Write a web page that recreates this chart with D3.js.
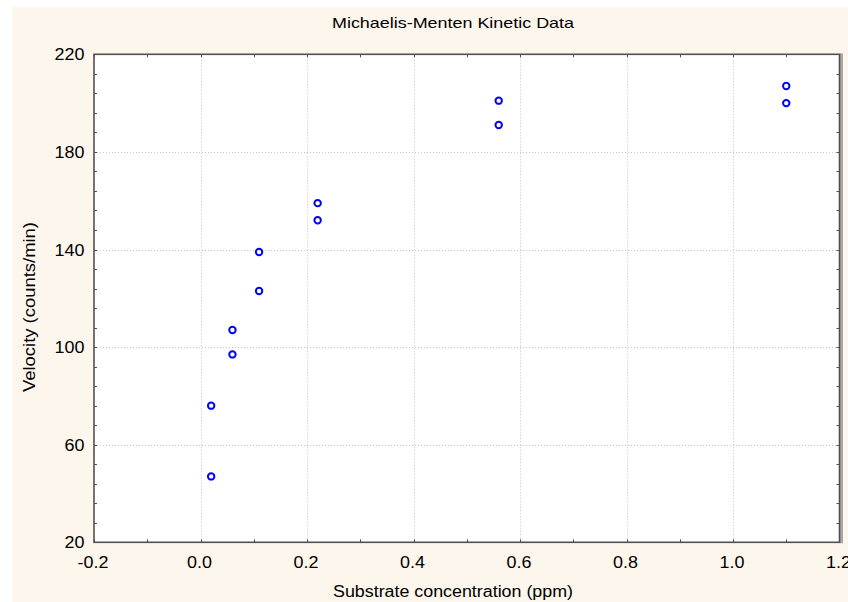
<!DOCTYPE html>
<html>
<head>
<meta charset="utf-8">
<script src="https://cdn.jsdelivr.net/npm/d3@7"></script>
<style>
  html, body { margin: 0; padding: 0; background: #fff; }
  svg { display: block; font-family: "Liberation Sans", Arial, sans-serif; }
</style>
</head>
<body>
<svg id="chart" width="848" height="602"></svg>
<script>
// Michaelis-Menten kinetic data (treated puromycin runs), two replicates per concentration.
const concentration = [0.02, 0.02, 0.06, 0.06, 0.11, 0.11, 0.22, 0.22, 0.56, 0.56, 1.10, 1.10];
const velocity = [76, 47, 97, 107, 123, 139, 159, 152, 191, 201, 207, 200];

const xTickValues = [-0.2, 0.0, 0.2, 0.4, 0.6, 0.8, 1.0, 1.2];
const yTickValues = [20, 60, 100, 140, 180, 220];

const TITLE = "Michaelis-Menten Kinetic Data";
const X_LABEL = "Substrate concentration (ppm)";
const Y_LABEL = "Velocity (counts/min)";

const BG = "#fdf6ec";
const FRAME = "#505050";
const GRID = "#c4c4c4";
const MARK = "#0000ff";

const svg = d3.select("#chart");

// cream panel, with a thin white margin on top and left
svg.append("rect").attr("x", 0).attr("y", 0).attr("width", 848).attr("height", 602).attr("fill", "#fff");
svg.append("rect").attr("x", 12).attr("y", 7).attr("width", 836).attr("height", 595).attr("fill", BG);

const x = d3.scaleLinear().domain([-0.2, 1.2]).range([94, 839.5]);
const y = d3.scaleLinear().domain([20, 220]).range([542.3, 54.3]);

const [x0, x1] = x.range();
const [y0, y1] = y.range();

svg.append("rect")
  .attr("x", x0).attr("y", y1)
  .attr("width", x1 - x0).attr("height", y0 - y1)
  .attr("fill", "#fff");

// dotted grid at the inner major ticks
const grid = svg.append("g").attr("stroke", GRID).attr("stroke-width", 1).attr("stroke-dasharray", "1,2");
grid.selectAll("line.gx")
  .data(xTickValues.slice(1, -1))
  .join("line")
    .attr("x1", d => Math.round(x(d)) + 0.5).attr("x2", d => Math.round(x(d)) + 0.5)
    .attr("y1", y1).attr("y2", y0);
grid.selectAll("line.gy")
  .data(yTickValues.slice(1, -1))
  .join("line")
    .attr("y1", d => Math.round(y(d)) + 0.5).attr("y2", d => Math.round(y(d)) + 0.5)
    .attr("x1", x0).attr("x2", x1);

// inward ticks on all four sides (majors plus minors)
const xMinor = d3.range(-0.2, 1.2001, 0.1);
const yMinor = d3.range(20, 220.01, 8);
const ticks = svg.append("g").attr("stroke", FRAME).attr("stroke-width", 1);
const TL = 3;
ticks.selectAll("line.bt").data(xMinor).join("line")
  .attr("x1", d => Math.round(x(d)) + 0.5).attr("x2", d => Math.round(x(d)) + 0.5)
  .attr("y1", y0).attr("y2", y0 - TL);
ticks.selectAll("line.tt").data(xMinor).join("line")
  .attr("x1", d => Math.round(x(d)) + 0.5).attr("x2", d => Math.round(x(d)) + 0.5)
  .attr("y1", y1).attr("y2", y1 + TL);
ticks.selectAll("line.lt").data(yMinor).join("line")
  .attr("y1", d => Math.round(y(d)) + 0.5).attr("y2", d => Math.round(y(d)) + 0.5)
  .attr("x1", x0).attr("x2", x0 + TL);
ticks.selectAll("line.rt").data(yMinor).join("line")
  .attr("y1", d => Math.round(y(d)) + 0.5).attr("y2", d => Math.round(y(d)) + 0.5)
  .attr("x1", x1).attr("x2", x1 - TL);

// frame, right edge carries a grey shadow
svg.append("rect")
  .attr("x", x1 + 0.5).attr("y", y1 - 1)
  .attr("width", 3).attr("height", y0 - y1 + 2)
  .attr("fill", "#a8a8a8");
svg.append("rect")
  .attr("x", x0).attr("y", y1)
  .attr("width", x1 - x0).attr("height", y0 - y1)
  .attr("fill", "none").attr("stroke", FRAME).attr("stroke-width", 1.6);

// data points
svg.append("g").selectAll("circle")
  .data(concentration.map((c, i) => [c, velocity[i]]))
  .join("circle")
    .attr("cx", d => x(d[0]))
    .attr("cy", d => y(d[1]))
    .attr("r", 3.2)
    .attr("fill", "none")
    .attr("stroke", MARK)
    .attr("stroke-width", 2);

// the original lettering is a horizontally widened Arial
function widen(sel, factor) {
  sel.each(function () {
    const w = this.getComputedTextLength();
    d3.select(this).attr("textLength", w * factor).attr("lengthAdjust", "spacingAndGlyphs");
  });
}

// plain hyphen for negatives, as in the original
const fmtX = d => d3.format(".1f")(d).replace("\u2212", "-");
svg.append("g").selectAll("text")
  .data(xTickValues)
  .join("text")
    .attr("x", d => x(d) - 1)
    .attr("y", 568)
    .attr("text-anchor", "middle")
    .attr("font-size", 16)
    .attr("fill", "#000")
    .text(fmtX)
    .call(widen, 1.12);

svg.append("g").selectAll("text")
  .data(yTickValues)
  .join("text")
    .attr("x", 84.5)
    .attr("y", d => y(d) + 6)
    .attr("text-anchor", "end")
    .attr("font-size", 16)
    .attr("fill", "#000")
    .text(d => d)
    .call(widen, 1.12);

svg.append("text")
  .attr("x", 453).attr("y", 28.3)
  .attr("text-anchor", "middle")
  .attr("font-size", 15)
  .attr("textLength", 242).attr("lengthAdjust", "spacingAndGlyphs")
  .text(TITLE);

svg.append("text")
  .attr("x", 453).attr("y", 596.7)
  .attr("text-anchor", "middle")
  .attr("font-size", 16)
  .attr("textLength", 240).attr("lengthAdjust", "spacingAndGlyphs")
  .text(X_LABEL);

svg.append("text")
  .attr("transform", "translate(34.5,307) rotate(-90)")
  .attr("text-anchor", "middle")
  .attr("font-size", 16)
  .attr("textLength", 170).attr("lengthAdjust", "spacingAndGlyphs")
  .text(Y_LABEL);
</script>
</body>
</html>
